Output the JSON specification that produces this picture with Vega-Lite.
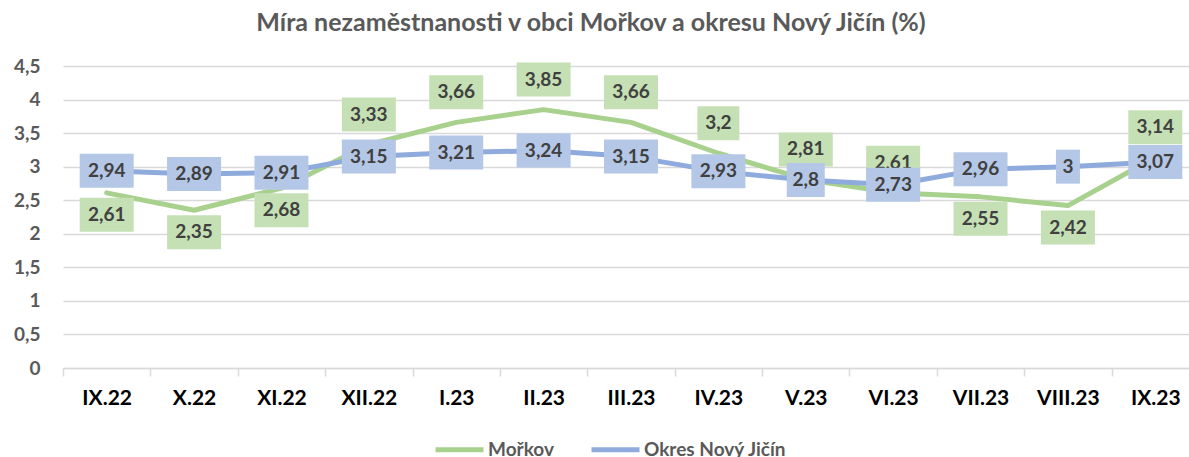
{
  "$schema": "https://vega.github.io/schema/vega-lite/v6.json",
  "width": 1136,
  "height": 302,
  "autosize": {"type": "none"},
  "padding": {"left": 63, "top": 66, "right": 0, "bottom": 89},
  "background": "white",
  "config": {
    "locale": {"number": {"decimal": ",", "thousands": " ", "grouping": [3], "currency": ["", ""]}},
    "view": {"stroke": null},
    "font": "Lato"
  },
  "title": {
    "text": "Míra nezaměstnanosti v obci Mořkov a okresu Nový Jičín (%)",
    "fontSize": 25,
    "font": "Lato",
    "fontWeight": "bold",
    "color": "#595959",
    "anchor": "middle",
    "dx": -40,
    "offset": 21
  },
  "data": {
    "values": [
      {"m": "IX.22", "s": "Mořkov", "v": 2.61},
      {"m": "X.22", "s": "Mořkov", "v": 2.35},
      {"m": "XI.22", "s": "Mořkov", "v": 2.68},
      {"m": "XII.22", "s": "Mořkov", "v": 3.33},
      {"m": "I.23", "s": "Mořkov", "v": 3.66},
      {"m": "II.23", "s": "Mořkov", "v": 3.85},
      {"m": "III.23", "s": "Mořkov", "v": 3.66},
      {"m": "IV.23", "s": "Mořkov", "v": 3.2},
      {"m": "V.23", "s": "Mořkov", "v": 2.81},
      {"m": "VI.23", "s": "Mořkov", "v": 2.61},
      {"m": "VII.23", "s": "Mořkov", "v": 2.55},
      {"m": "VIII.23", "s": "Mořkov", "v": 2.42},
      {"m": "IX.23", "s": "Mořkov", "v": 3.14},
      {"m": "IX.22", "s": "Okres Nový Jičín", "v": 2.94},
      {"m": "X.22", "s": "Okres Nový Jičín", "v": 2.89},
      {"m": "XI.22", "s": "Okres Nový Jičín", "v": 2.91},
      {"m": "XII.22", "s": "Okres Nový Jičín", "v": 3.15},
      {"m": "I.23", "s": "Okres Nový Jičín", "v": 3.21},
      {"m": "II.23", "s": "Okres Nový Jičín", "v": 3.24},
      {"m": "III.23", "s": "Okres Nový Jičín", "v": 3.15},
      {"m": "IV.23", "s": "Okres Nový Jičín", "v": 2.93},
      {"m": "V.23", "s": "Okres Nový Jičín", "v": 2.8},
      {"m": "VI.23", "s": "Okres Nový Jičín", "v": 2.73},
      {"m": "VII.23", "s": "Okres Nový Jičín", "v": 2.96},
      {"m": "VIII.23", "s": "Okres Nový Jičín", "v": 3},
      {"m": "IX.23", "s": "Okres Nový Jičín", "v": 3.07}
    ]
  },
  "encoding": {
    "x": {
      "field": "m",
      "type": "ordinal",
      "sort": null,
      "scale": {"type": "band", "paddingInner": 0, "paddingOuter": 0},
      "axis": {
        "title": null,
        "labelAngle": 0,
        "labelFont": "Lato",
        "labelFontSize": 21,
        "labelFontWeight": "bold",
        "labelColor": "#000000",
        "labelPadding": 11,
        "domainColor": "#D9D9D9",
        "domainWidth": 1.5,
        "tickColor": "#D9D9D9",
        "tickWidth": 1.5,
        "tickSize": 8,
        "tickBand": "extent",
        "grid": false
      }
    },
    "y": {
      "field": "v",
      "type": "quantitative",
      "scale": {"domain": [0, 4.5], "nice": false, "zero": true},
      "axis": {
        "title": null,
        "values": [0, 0.5, 1, 1.5, 2, 2.5, 3, 3.5, 4, 4.5],
        "format": ".1~f",
        "labelFont": "Lato",
        "labelFontSize": 19,
        "labelFontWeight": "bold",
        "labelColor": "#595959",
        "labelPadding": 23,
        "domain": false,
        "ticks": false,
        "gridColor": "#D9D9D9",
        "gridWidth": 1.5
      }
    }
  },
  "layer": [
    {
      "mark": {"type": "line", "strokeWidth": 5, "strokeCap": "round", "strokeJoin": "round"},
      "encoding": {
        "color": {
          "field": "s",
          "type": "nominal",
          "scale": {"domain": ["Mořkov", "Okres Nový Jičín"], "range": ["#A9D18E", "#8FAADC"]},
          "legend": {
            "title": null,
            "orient": "none",
            "direction": "horizontal",
            "legendX": 370,
            "legendY": 357,
            "symbolType": "stroke",
            "symbolSize": 2304,
            "symbolStrokeWidth": 5,
            "labelFont": "Lato",
            "labelFontSize": 19,
            "labelFontWeight": "bold",
            "labelColor": "#595959",
            "labelOffset": 2,
            "columnPadding": 27
          }
        }
      }
    },
    {
      "transform": [
        {"filter": "datum.s == 'Mořkov' && indexof(['IX.22','X.22','XI.22','VII.23','VIII.23'], datum.m) < 0"}
      ],
      "mark": {"type": "point", "filled": true, "opacity": 1, "size": 4, "strokeWidth": 0, "color": "#C5E0B4"},
      "encoding": {
        "shape": {
          "condition": [{"test": "datum.v == 3.2", "value": "M-21,-47H21V-13H-21Z"}],
          "value": "M-27,-47H27V-13H-27Z"
        }
      }
    },
    {
      "transform": [
        {"filter": "datum.s == 'Mořkov' && indexof(['IX.22','X.22','XI.22','VII.23','VIII.23'], datum.m) < 0"}
      ],
      "mark": {"type": "text", "dy": -30, "baseline": "middle", "align": "center", "font": "Lato", "fontSize": 19, "fontWeight": "bold", "color": "#404040"},
      "encoding": {"text": {"field": "v", "type": "quantitative", "format": ".2~f"}}
    },
    {
      "transform": [
        {"filter": "datum.s == 'Mořkov' && indexof(['IX.22','X.22','XI.22','VII.23','VIII.23'], datum.m) >= 0"}
      ],
      "mark": {"type": "point", "filled": true, "opacity": 1, "size": 4, "strokeWidth": 0, "color": "#C5E0B4", "shape": "M-27,5H27V39H-27Z"}
    },
    {
      "transform": [
        {"filter": "datum.s == 'Mořkov' && indexof(['IX.22','X.22','XI.22','VII.23','VIII.23'], datum.m) >= 0"}
      ],
      "mark": {"type": "text", "dy": 22, "baseline": "middle", "align": "center", "font": "Lato", "fontSize": 19, "fontWeight": "bold", "color": "#404040"},
      "encoding": {"text": {"field": "v", "type": "quantitative", "format": ".2~f"}}
    },
    {
      "transform": [{"filter": "datum.s == 'Okres Nový Jičín'"}],
      "mark": {"type": "point", "filled": true, "opacity": 1, "size": 4, "strokeWidth": 0, "color": "#B4C7E7"},
      "encoding": {
        "shape": {
          "condition": [
            {"test": "datum.v == 3", "value": "M-12,-17H12V17H-12Z"},
            {"test": "datum.v == 2.8", "value": "M-19,-17H19V17H-19Z"}
          ],
          "value": "M-27,-17H27V17H-27Z"
        }
      }
    },
    {
      "transform": [{"filter": "datum.s == 'Okres Nový Jičín'"}],
      "mark": {"type": "text", "baseline": "middle", "align": "center", "font": "Lato", "fontSize": 19, "fontWeight": "bold", "color": "#404040"},
      "encoding": {"text": {"field": "v", "type": "quantitative", "format": ".2~f"}}
    }
  ]
}
